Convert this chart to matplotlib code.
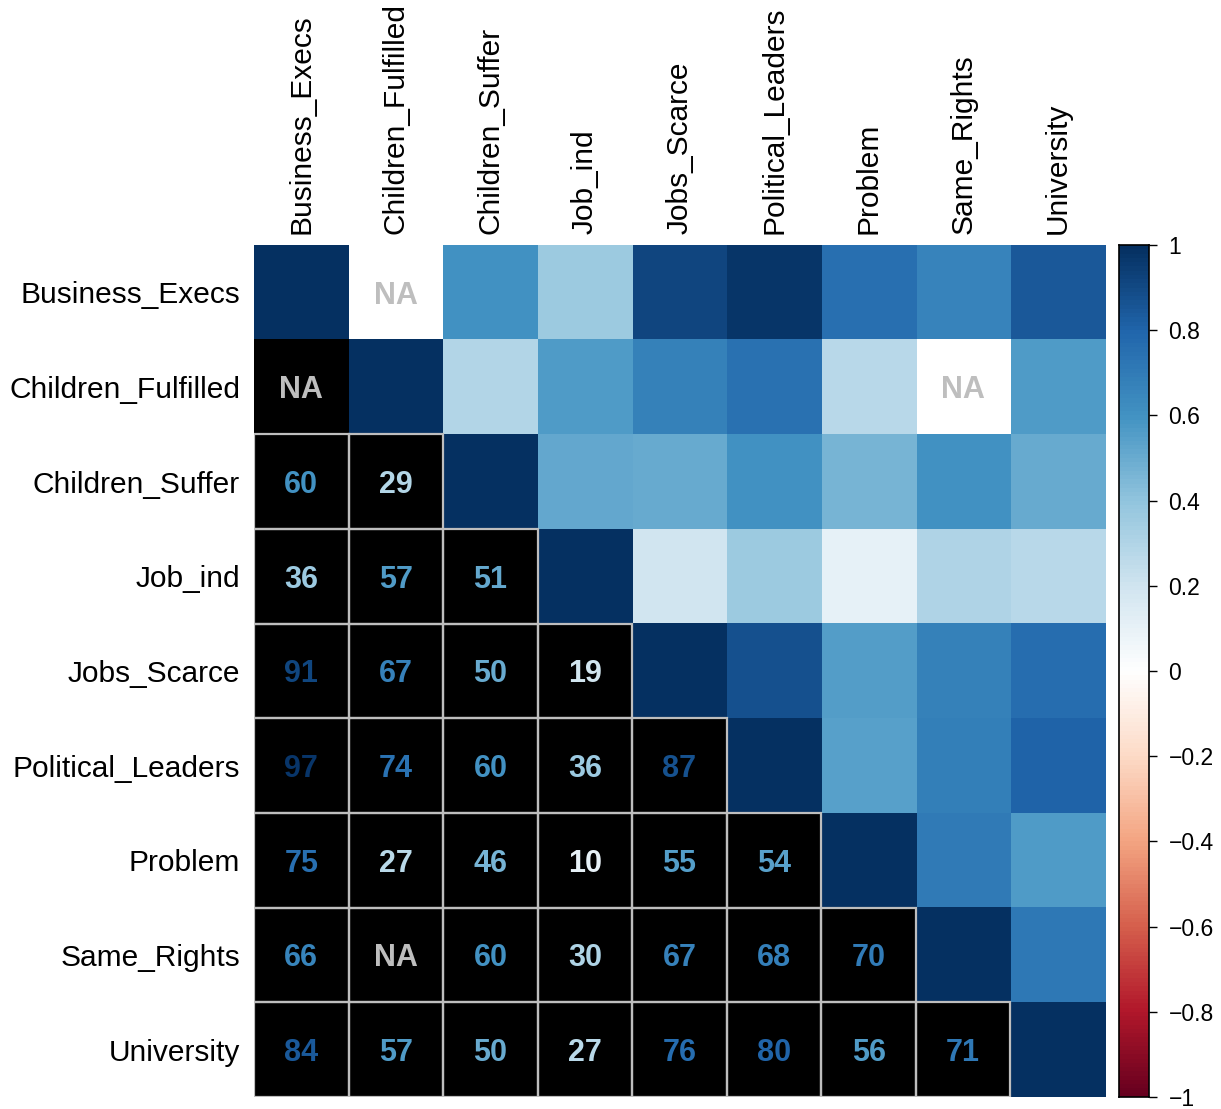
import numpy as np
import matplotlib
matplotlib.use("Agg")
import matplotlib.pyplot as plt
from matplotlib.colors import LinearSegmentedColormap, Normalize
from matplotlib.patches import Rectangle

plt.rcParams['font.family'] = ['Liberation Sans', 'DejaVu Sans']

labels = ["Business_Execs", "Children_Fulfilled", "Children_Suffer", "Job_ind",
          "Jobs_Scarce", "Political_Leaders", "Problem", "Same_Rights", "University"]

# lower triangle, correlation x 100 (None = NA)
lower = [
    [],
    [None],
    [60, 29],
    [36, 57, 51],
    [91, 67, 50, 19],
    [97, 74, 60, 36, 87],
    [75, 27, 46, 10, 55, 54],
    [66, None, 60, 30, 67, 68, 70],
    [84, 57, 50, 27, 76, 80, 56, 71],
]

n = len(labels)
corr = np.eye(n)
for i, row in enumerate(lower):
    for j, v in enumerate(row):
        val = np.nan if v is None else v / 100
        corr[i, j] = val
        corr[j, i] = val

# corrplot default RdBu palette, 200 steps
col2 = ["#67001F", "#B2182B", "#D6604D", "#F4A582", "#FDDBC7", "#FFFFFF",
        "#D1E5F0", "#92C5DE", "#4393C3", "#2166AC", "#053061"]
cmap = LinearSegmentedColormap.from_list("rdbu", col2, N=200)
norm = Normalize(-1, 1)

fig = plt.figure(figsize=(12.21, 11.09), dpi=100)
W, H = 1221, 1109
ax = fig.add_axes([254 / W, (H - 1097) / H, 851 / W, 852 / H])

img = np.zeros((n, n, 4))
for i in range(n):
    for j in range(n):
        if j < i:
            img[i, j] = (0, 0, 0, 1)
        elif np.isnan(corr[i, j]):
            img[i, j] = (1, 1, 1, 1)
        else:
            img[i, j] = cmap(norm(corr[i, j]))
ax.imshow(img, extent=(-0.5, n - 0.5, n - 0.5, -0.5), interpolation="nearest", aspect="auto")

# borders and numbers in the lower triangle
for i in range(n):
    for j in range(i):
        v = corr[i, j]
        if i >= 2:
            ax.add_patch(Rectangle((j - 0.5, i - 0.5), 1, 1, fill=False,
                                   ec="#BEBEBE", lw=1.6, zorder=3))
        if np.isnan(v):
            txt, col = "NA", "#BEBEBE"
        else:
            txt, col = f"{int(round(v * 100))}", cmap(norm(v))
        ax.text(j, i, txt, ha="center", va="center_baseline", color=col,
                fontsize=22, fontweight="bold", zorder=4)
# NA in upper triangle
for i in range(n):
    for j in range(i + 1, n):
        if np.isnan(corr[i, j]):
            ax.text(j, i, "NA", ha="center", va="center_baseline", color="#BEBEBE",
                    fontsize=22, fontweight="bold")

ax.set_xlim(-0.5, n - 0.5)
ax.set_ylim(n - 0.5, -0.5)
for s in ax.spines.values():
    s.set_visible(False)
ax.set_xticks(range(n))
ax.set_yticks(range(n))
ax.set_xticklabels(labels, rotation=90, fontsize=21.5)
ax.set_yticklabels(labels, fontsize=21.5)
ax.xaxis.tick_top()
ax.tick_params(length=0)
ax.tick_params(axis="x", pad=8)
ax.tick_params(axis="y", pad=10)

# colour legend
cax = fig.add_axes([1119 / W, (H - 1097) / H, 30 / W, 852 / H])
grad = np.linspace(-1, 1, 200).reshape(-1, 1)
cax.imshow(grad, cmap=cmap, norm=norm, origin="lower", aspect="auto",
           extent=(0, 1, -1, 1))
cax.set_xticks([])
cax.yaxis.tick_right()
ticks = np.round(np.arange(-1, 1.01, 0.2), 1)
cax.set_yticks(ticks)
cax.set_yticklabels([("\u22121" if t == -1 else "1" if t == 1 else "0" if t == 0
                      else f"{t:g}".replace("-", "\u2212")) for t in ticks], fontsize=16.5)
cax.tick_params(axis="y", length=6, width=1, pad=8)
for s in cax.spines.values():
    s.set_linewidth(1.2)

fig.savefig("out.png", dpi=100)
